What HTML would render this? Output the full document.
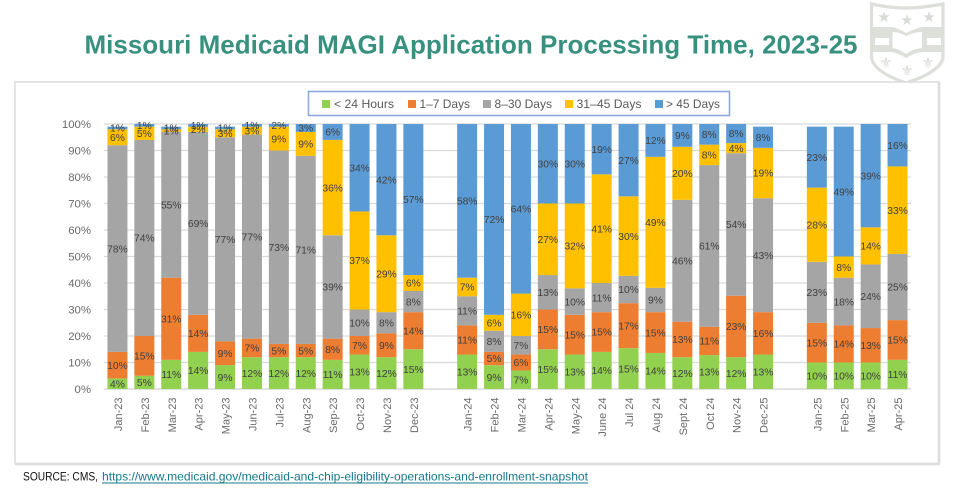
<!DOCTYPE html>
<html lang="en">
<head>
<meta charset="utf-8">
<title>Missouri Medicaid MAGI Application Processing Time, 2023-25</title>
<style>
html,body{margin:0;padding:0;background:#fff;}
body{width:966px;height:500px;overflow:hidden;font-family:"Liberation Sans",sans-serif;}
svg{display:block;}
text{font-family:"Liberation Sans",sans-serif;}
</style>
</head>
<body>
<svg id="chart" width="966" height="500" viewBox="0 0 966 500">
  <rect x="0" y="0" width="966" height="500" fill="#ffffff"/>

  <g>
    <path d="M871.5 4 Q890 8 906 8 Q922 8 943 4 L943 58 Q940 72 906 83 Q874 72 871.5 58 Z" fill="#ffffff" stroke="#dcdfda" stroke-width="3.2"/>
    <path d="M872 27 L892 27 Q900 29 906 33 Q914 29 922 27 L942 27 L942 52 L922 52 Q914 53 906 58 Q898 53 892 52 L872 52 Z" fill="#dcdfda"/>
    <path d="M892.5 32 Q900 32 906 36 Q914 32 922 32 L922 48 Q913 49 906 54 Q899 49 892.5 48 Z" fill="#ffffff"/>
    <rect x="875" y="38" width="14" height="7" fill="#ffffff"/>
    <rect x="927" y="38" width="14" height="7" fill="#ffffff"/>
    <g fill="#d8dbd6" font-size="15" text-anchor="middle">
      <text x="884" y="22" style="font-family:'DejaVu Sans',sans-serif">★</text>
      <text x="907" y="25" style="font-family:'DejaVu Sans',sans-serif">★</text>
      <text x="929" y="22" style="font-family:'DejaVu Sans',sans-serif">★</text>
      <text x="886" y="68" style="font-family:'DejaVu Sans',sans-serif">⚜</text>
      <text x="907" y="76" style="font-family:'DejaVu Sans',sans-serif">⚜</text>
      <text x="928" y="68" style="font-family:'DejaVu Sans',sans-serif">⚜</text>
    </g>
  </g>

  <text x="84.5" y="53.5" font-size="26" font-weight="700" fill="#38917f" textLength="773" lengthAdjust="spacingAndGlyphs">Missouri Medicaid MAGI Application Processing Time, 2023-25</text>

  <rect x="15" y="82" width="923.5" height="381.5" fill="#ffffff" stroke="#dcdcdc" stroke-width="1.5"/>
  <path d="M939.5 82 V464.5 H15" fill="none" stroke="#dcdcdc" stroke-width="1.5"/>

  <g id="plot"></g>

  <g>
    <rect x="308.5" y="91.5" width="421" height="24" fill="#ffffff" stroke="#8eaadb" stroke-width="1.6"/>
    <g>
      <rect x="322" y="100" width="8" height="8" fill="#92d050"/>
      <text x="334" y="108" font-size="12" fill="#595959" textLength="60" lengthAdjust="spacingAndGlyphs">&lt; 24 Hours</text>
    </g>
    <g>
      <rect x="408" y="100" width="8" height="8" fill="#ed7d31"/>
      <text x="419.5" y="108" font-size="12" fill="#595959" textLength="50.5" lengthAdjust="spacingAndGlyphs">1–7 Days</text>
    </g>
    <g>
      <rect x="483" y="100" width="8" height="8" fill="#a5a5a5"/>
      <text x="494.5" y="108" font-size="12" fill="#595959" textLength="57.5" lengthAdjust="spacingAndGlyphs">8–30 Days</text>
    </g>
    <g>
      <rect x="565" y="100" width="8" height="8" fill="#ffc000"/>
      <text x="576.5" y="108" font-size="12" fill="#595959" textLength="65" lengthAdjust="spacingAndGlyphs">31–45 Days</text>
    </g>
    <g>
      <rect x="655" y="100" width="8" height="8" fill="#5b9bd5"/>
      <text x="666" y="108" font-size="12" fill="#595959" textLength="54" lengthAdjust="spacingAndGlyphs">&gt; 45 Days</text>
    </g>
  </g>

  <text x="23" y="480.5" font-size="12" fill="#111111" textLength="75" lengthAdjust="spacingAndGlyphs">SOURCE: CMS,</text>
  <text x="102" y="480.5" font-size="12" fill="#17788c" textLength="486" lengthAdjust="spacingAndGlyphs">https://www.medicaid.gov/medicaid-and-chip-eligibility-operations-and-enrollment-snapshot</text>
  <rect x="102" y="482.5" width="486" height="1" fill="#17788c"/>
</svg>

<script>
// Empty strings / nulls mark the gaps between years.
const categories = ["Jan-23","Feb-23","Mar-23","Apr-23","May-23","Jun-23","Jul-23","Aug-23","Sep-23","Oct-23","Nov-23","Dec-23","",
  "Jan-24","Feb-24","Mar-24","Apr-24","May-24","June 24","Jul 24","Aug 24","Sept 24","Oct 24","Nov-24","Dec-25","",
  "Jan-25","Feb-25","Mar-25","Apr-25"];
const under24Hours = [4,5,11,14,9,12,12,12,11,13,12,15,null,
  13,9,7,15,13,14,15.4,13.6,12,12.8,12,13,null,
  10,10,10,11];
const days1to7 = [10,15,31,14,9,7,5,5,8,7,9,14,null,
  11,5,6,15,15,15,17,15.4,13.4,10.7,23.2,16,null,
  15,14,13,15];
const days8to30 = [78,74,55,69,77,77,73,71,39,10,8,8,null,
  11,8,7,13,10,11,10.3,9.2,46,61,53.8,43,null,
  23,18,24,25];
const days31to45 = [6,5,1,2,3,3,9,9,36,37,29,6,null,
  7,6,16,27,32,41,30,49.4,20,7.7,3.8,19,null,
  28,8,14,33];
const over45Days = [1,1,1,1,1,1,2,3,6,34,42,57,null,
  58,72,64,30,30,19,27.4,12.4,8.6,7.8,7.5,8,null,
  23,49,39,16];
const yTicks = [0,10,20,30,40,50,60,70,80,90,100];
const seriesNames = ["under-24-hours","1-7-days","8-30-days","31-45-days","over-45-days"];
const seriesValues = [under24Hours, days1to7, days8to30, days31to45, over45Days];
const seriesColors = ["#92d050","#ed7d31","#a5a5a5","#ffc000","#5b9bd5"];

const plotLeft = 104, plotRight = 911, plotTop = 124, plotBottom = 389, barWidth = 20;
const SVG_NS = "http://www.w3.org/2000/svg";
const plot = document.getElementById("plot");

function yScale(v){
  return plotBottom - (Math.min(v, 100) / 100) * (plotBottom - plotTop);
}
function xCenter(i){
  return plotLeft + (plotRight - plotLeft) * (i + 0.5) / categories.length;
}
function make(tag, attrs){
  const el = document.createElementNS(SVG_NS, tag);
  for (const k in attrs) el.setAttribute(k, attrs[k]);
  return el;
}

yTicks.forEach(function(t){
  const line = make("line", {x1: plotLeft, x2: plotRight, y1: yScale(t), y2: yScale(t), stroke: "#d9d9d9", "stroke-width": t === 0 ? 1.6 : 1.2});
  
  
  plot.appendChild(line);

  const label = make("text", {x: 91, y: yScale(t) + 4, "text-anchor": "end", "font-size": 11.4, fill: "#6a6a6a"});
  
  
  label.textContent = t + "%";
  plot.appendChild(label);
});

const labelLayer = make("g", {});



categories.forEach(function(cat, i){
  if (!cat) return;
  let cum = 0;
  seriesValues.forEach(function(values, s){
    const v = values[i];
    const yBottom = yScale(cum);
    const yTop = yScale(cum + v);
    cum += v;

    const bar = make("rect", {x: xCenter(i) - barWidth / 2, y: yTop, width: barWidth, height: Math.max(yBottom - yTop, 0), fill: seriesColors[s]});
    
    
    plot.appendChild(bar);

    const lab = make("text", {x: xCenter(i), y: (yTop + yBottom) / 2 + 3.7, "text-anchor": "middle", "font-size": 10.3, fill: "#404040"});
    
    
    lab.textContent = Math.round(v) + "%";
    labelLayer.appendChild(lab);
  });

  const xLabel = make("text", {x: 0, y: 0, "text-anchor": "end", "font-size": 11, fill: "#6a6a6a", transform: "translate(" + (xCenter(i) + 4.5) + ",397.5) rotate(-90)"});
  
  
  xLabel.textContent = cat;
  plot.appendChild(xLabel);
});
plot.appendChild(labelLayer);
</script>
</body>
</html>
